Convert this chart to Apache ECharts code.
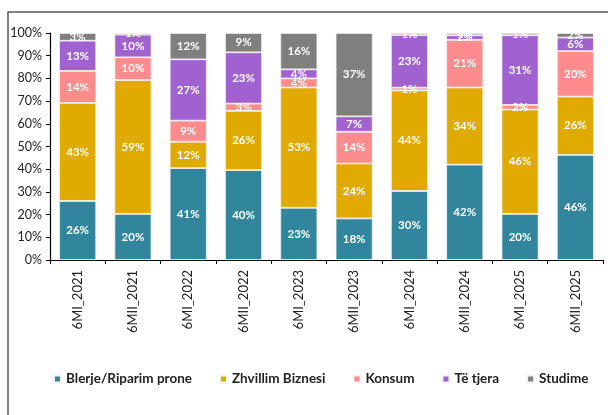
<!DOCTYPE html>
<html><head><meta charset="utf-8">
<script src="https://cdn.jsdelivr.net/npm/echarts@6/dist/echarts.min.js"></script>
<style>html,body{margin:0;padding:0;background:#fff}#c{width:608px;height:415px}</style>
</head><body><div id="c"></div>
<script>
const categories = ['6MI_2021','6MII_2021','6MI_2022','6MII_2022','6MI_2023','6MII_2023','6MI_2024','6MII_2024','6MI_2025','6MII_2025'];
const blerje   = [26, 20.3, 40.5, 39.6, 23, 18.3, 30.4, 42, 20.3, 46.3];
const zhvillim = [43.2, 59, 11.6, 26.1, 53, 24.2, 44.3, 34, 46, 25.7];
const konsum   = [14.1, 10, 9.3, 3.2, 4, 14, 1.2, 21, 2, 20];
const tjera    = [13.3, 10, 27, 22.6, 4, 6.8, 23.2, 2, 30.7, 6];
const studime  = [3.4, 0.7, 11.6, 8.5, 16, 36.7, 0.9, 1, 1, 2];
const seriesNames = ['Blerje/Riparim prone','Zhvillim Biznesi','Konsum','Të tjera','Studime'];
const colors = ['#31869E','#E0AA00','#FF8C8C','#A061D1','#7F7F7F'];
const yTicks = [0,10,20,30,40,50,60,70,80,90,100];

const font = 'Lato, "Open Sans", sans-serif';
const chart = echarts.init(document.getElementById('c'));
const mk = (name, data, i) => ({
  name, type: 'bar', stack: 'total', data, barWidth: '67%',
  itemStyle: { color: colors[i], borderColor: '#f4f4f4', borderWidth: 0.8 },
  label: { show: true, position: 'inside', color: '#fff', fontWeight: 'bold', fontSize: 11.5, fontFamily: font,
    formatter: p => Math.round(p.value) + '%' }
});
chart.setOption({
  animation: false,
  color: colors,
  graphic: [{ type: 'rect', shape: { x: 8, y: 12, width: 700, height: 500 }, style: { fill: 'none', stroke: '#555', lineWidth: 1.5 }, silent: true }],
  grid: { left: 50, right: 5, top: 33, bottom: 155, containLabel: false },
  legend: {
    bottom: 24, left: 48, itemWidth: 7, itemHeight: 7, itemGap: 27, icon: 'rect',
    textStyle: { fontFamily: font, fontWeight: 'bold', fontSize: 13.5, color: '#222' },
    data: seriesNames
  },
  xAxis: {
    type: 'category', data: categories,
    axisLine: { lineStyle: { color: '#000', width: 1.2 } },
    axisTick: { show: true, alignWithLabel: false, length: 4, lineStyle: { color: '#000' } },
    axisLabel: { rotate: 90, fontFamily: font, fontSize: 13, color: '#222', margin: 10, interval: 0 }
  },
  yAxis: {
    type: 'value', min: 0, max: 100, interval: 10,
    axisLine: { show: true, lineStyle: { color: '#000', width: 1.2 } },
    axisTick: { show: true, length: 4, inside: false, lineStyle: { color: '#000' } },
    splitLine: { show: false },
    axisLabel: { fontFamily: font, fontSize: 12.5, color: '#222', margin: 8,
      formatter: v => yTicks.includes(v) ? v + '%' : '' }
  },
  series: [mk(seriesNames[0], blerje, 0), mk(seriesNames[1], zhvillim, 1), mk(seriesNames[2], konsum, 2), mk(seriesNames[3], tjera, 3), mk(seriesNames[4], studime, 4)]
});
</script></body></html>
